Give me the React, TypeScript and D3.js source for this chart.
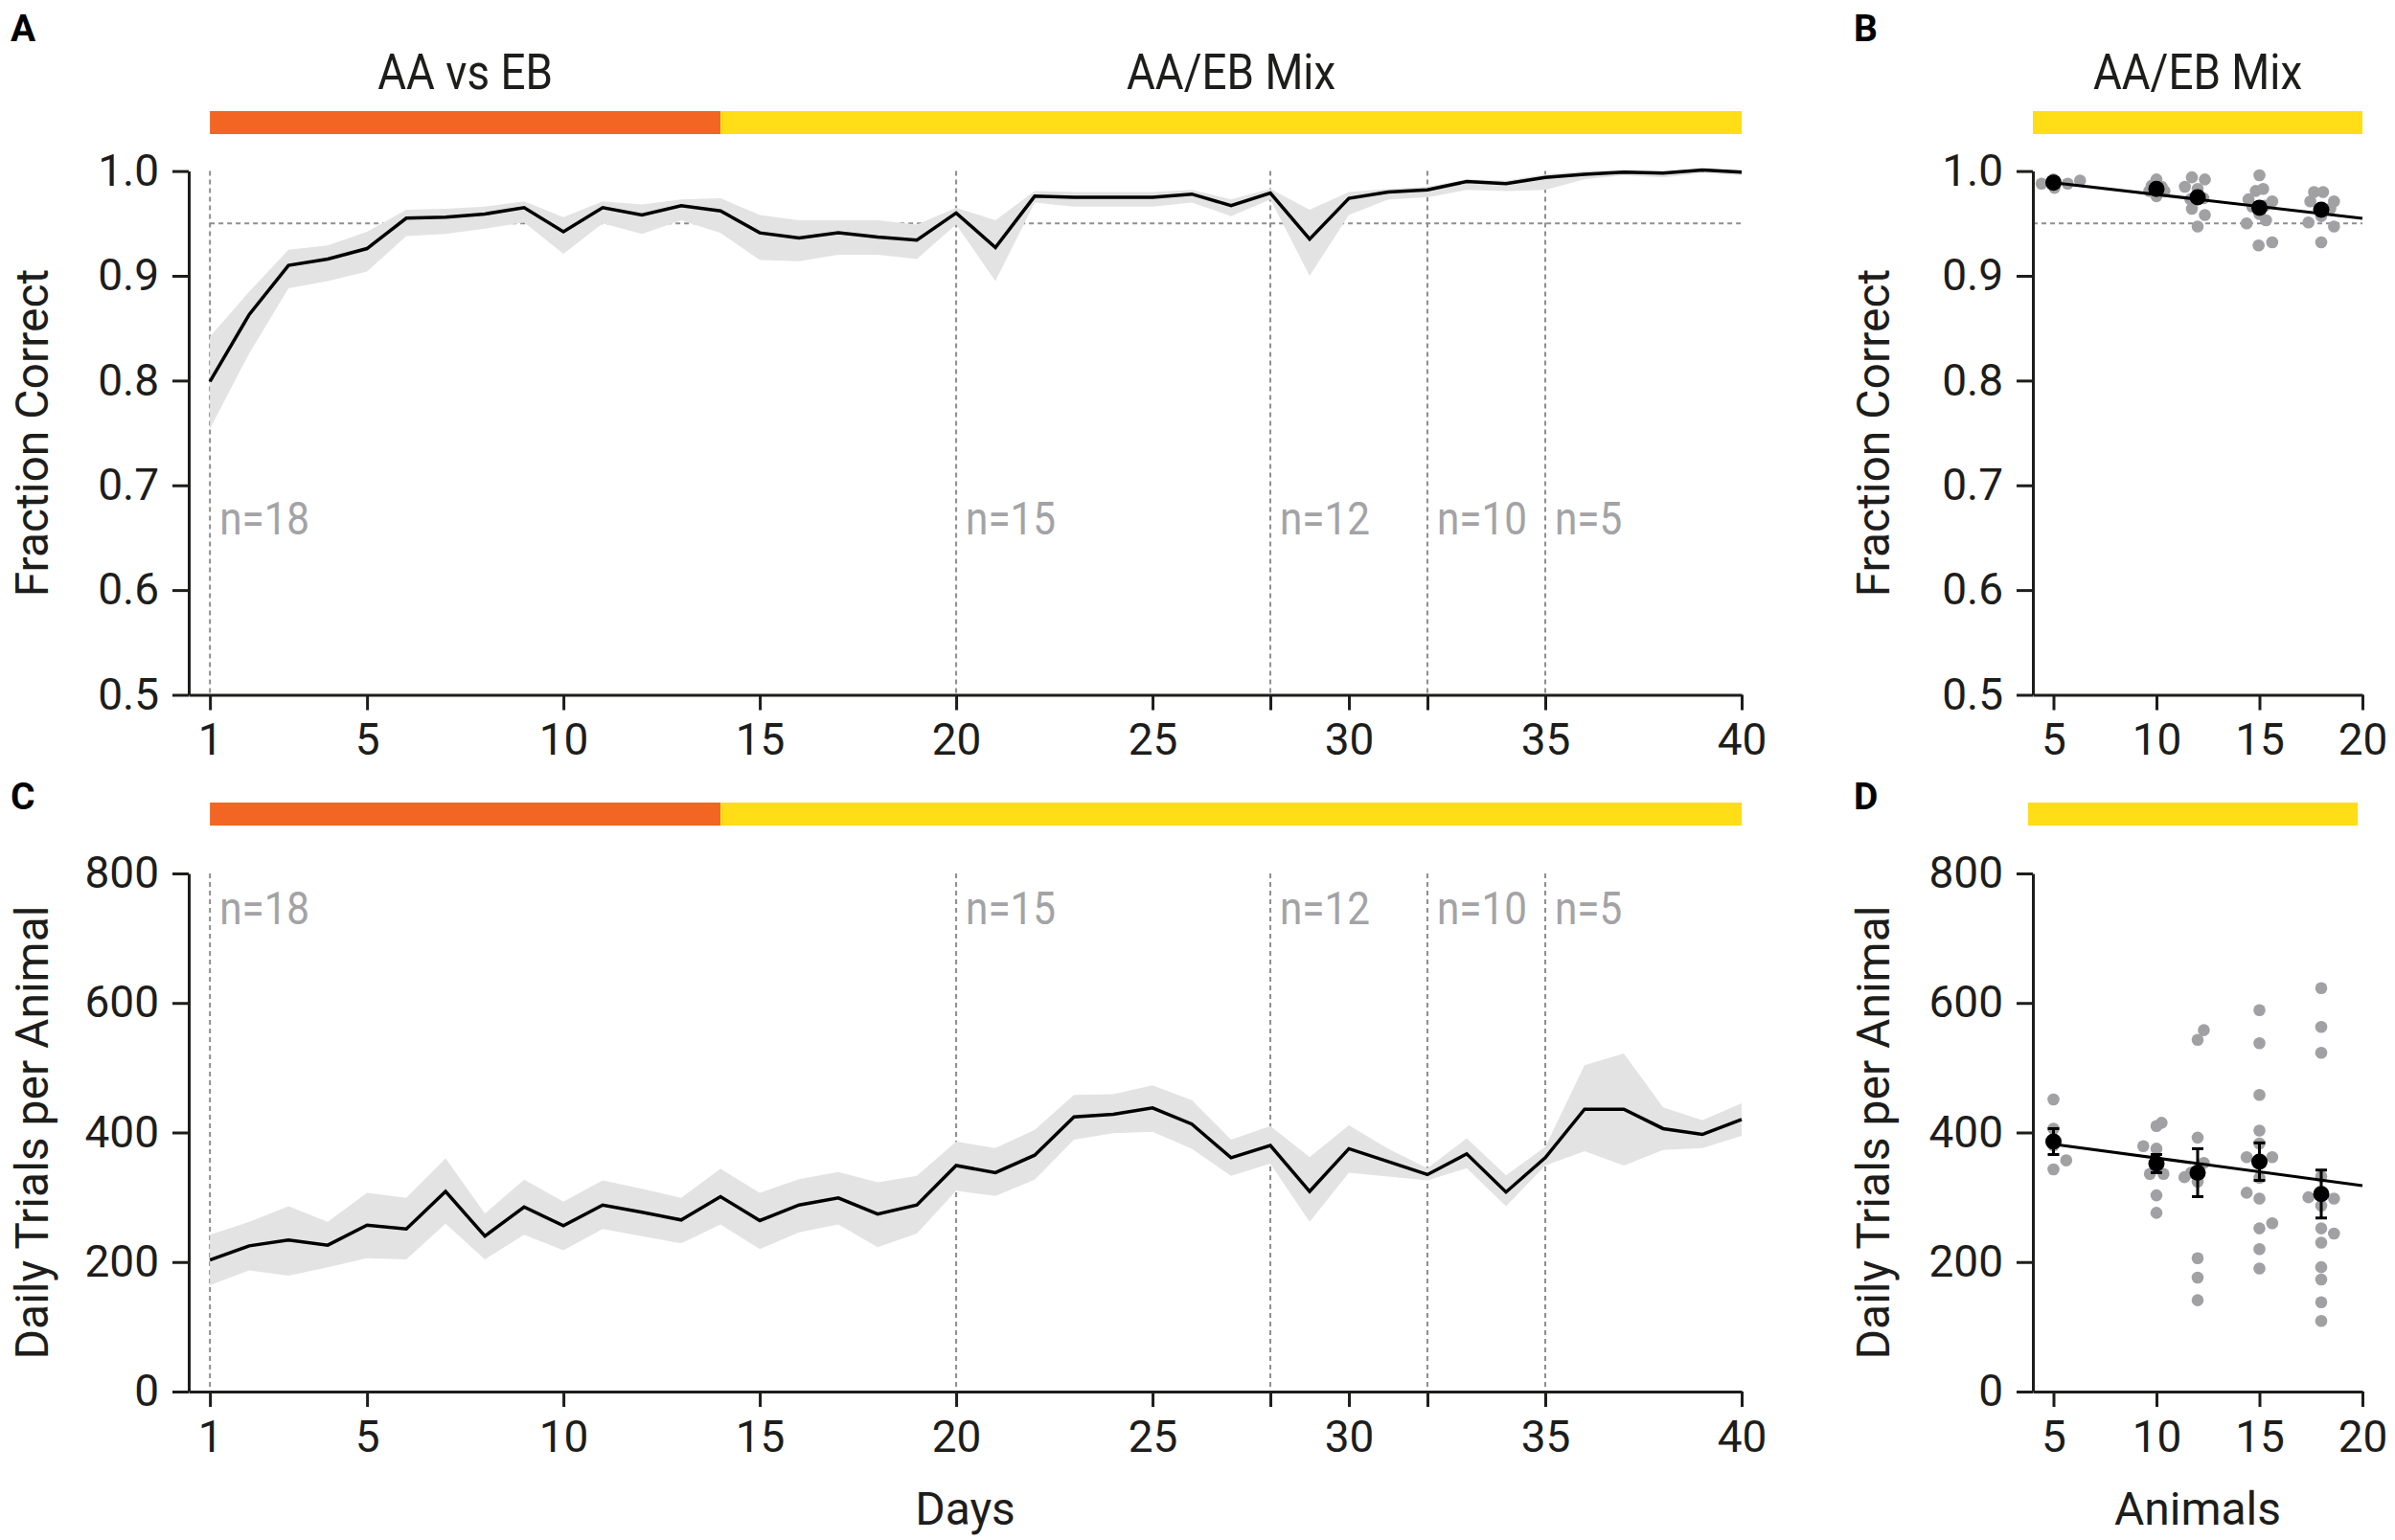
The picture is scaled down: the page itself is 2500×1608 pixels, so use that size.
import * as d3 from "d3";
import { useEffect, useRef } from "react";

const W = 2500;
const H = 1608;

const FONT = "Roboto, 'Open Sans', sans-serif";
const INK = "#1d1d1b";
const GREY_TEXT = "#a3a3a6";
const DOT_GREY = "#a1a1a4";
const BAND = "#e3e3e3";
const DASH = "#8e8e8e";
const ORANGE = "#f26522";
const YELLOW = "#ffdd17";

// ---- time course (panels A, C) ----
const days = [
    1, 2, 3, 4, 5, 6, 7, 8, 9, 10, 11, 12, 13, 14, 15, 16, 17, 18, 19, 20,
    21, 22, 23, 24, 25, 26, 27, 28, 29, 30, 31, 32, 33, 34, 35, 36, 37, 38, 39, 40,
];

const accMean = [
    0.799, 0.863, 0.91, 0.916, 0.926, 0.955, 0.956, 0.959, 0.965, 0.942,
    0.965, 0.958, 0.967, 0.962, 0.941, 0.936, 0.941, 0.937, 0.934, 0.96,
    0.927, 0.976, 0.975, 0.975, 0.975, 0.978, 0.967, 0.979, 0.935, 0.974,
    0.98, 0.982, 0.99, 0.988, 0.994, 0.997, 0.999, 0.998, 1.001, 0.999,
];
const accHigh = [
    0.842, 0.885, 0.925, 0.929, 0.942, 0.963, 0.964, 0.966, 0.971, 0.956,
    0.971, 0.968, 0.973, 0.974, 0.958, 0.953, 0.953, 0.953, 0.949, 0.965,
    0.953, 0.981, 0.98, 0.98, 0.98, 0.982, 0.973, 0.983, 0.963, 0.98,
    0.983, 0.985, 0.992, 0.991, 0.997, 1.0, 1.001, 1.0, 1.002, 1.001,
];
const accLow = [
    0.754, 0.826, 0.888, 0.895, 0.904, 0.938, 0.94, 0.945, 0.951, 0.921,
    0.95, 0.94, 0.953, 0.941, 0.915, 0.914, 0.92, 0.92, 0.916, 0.949,
    0.895, 0.97, 0.966, 0.966, 0.966, 0.97, 0.957, 0.973, 0.9, 0.958,
    0.973, 0.975, 0.982, 0.981, 0.982, 0.992, 0.996, 0.994, 0.998, 0.996,
];

const trialsMean = [
    203, 225, 234, 226, 257, 251, 309, 240, 285, 256,
    288, 277, 265, 301, 264, 288, 299, 274, 288, 349,
    338, 365, 424, 428, 438, 413, 361, 380, 309, 375,
    355, 335, 367, 308, 361, 436, 436, 406, 397, 420,
];
const trialsHigh = [
    242, 262, 286, 262, 307, 299, 360, 275, 327, 293,
    326, 313, 299, 344, 307, 328, 339, 323, 333, 386,
    376, 404, 458, 459, 473, 450, 389, 410, 362, 411,
    375, 345, 391, 334, 378, 504, 522, 439, 419, 445,
];
const trialsLow = [
    164, 187, 179, 192, 206, 204, 259, 204, 242, 218,
    251, 240, 229, 258, 220, 246, 258, 223, 244, 310,
    302, 327, 389, 399, 401, 375, 333, 352, 262, 338,
    332, 326, 345, 286, 349, 371, 349, 373, 376, 395,
];

const cohortDays = [1, 20, 28, 32, 35];
const cohortLabels = ["n=18", "n=15", "n=12", "n=10", "n=5"];

const phaseNames = ["AA vs EB", "AA/EB Mix"];
const phaseStart = [1, 14];
const phaseEnd = [14, 40];

const accTicks = [0.5, 0.6, 0.7, 0.8, 0.9, 1.0];
const trialTicks = [0, 200, 400, 600, 800];
const dayTicks = [1, 5, 10, 15, 20, 25, 28, 30, 32, 35, 40];
const dayTickLabels = [1, 5, 10, 15, 20, 25, 30, 35, 40];
const animalTicks = [5, 10, 15, 20];
const criterion = 0.95;

// ---- by cohort size (panels B, D) ----
const animalGroups = [5, 10, 12, 15, 18];
const accGroupMean = [0.989, 0.983, 0.975, 0.965, 0.963];
const accFit = { intercept: 1.0003, slope: -0.00227 };
// [cohort size, horizontal jitter, value]
const accAnimals: [number, number, number][] = [
    [5, -0.58, 0.988], [5, 0.05, 0.984], [5, 0.69, 0.988], [5, 1.29, 0.991], [5, 0.0, 0.992],
    [10, 0, 0.992], [10, -0.35, 0.981], [10, 0.39, 0.981], [10, 0, 0.976], [10, -0.23, 0.986], [10, 0.25, 0.985],
    [12, -0.28, 0.994], [12, 0.35, 0.992], [12, -0.62, 0.985], [12, 0, 0.983], [12, 0.28, 0.974],
    [12, -0.28, 0.964], [12, 0.35, 0.958], [12, 0, 0.947], [12, -0.35, 0.973],
    [15, 0, 0.996], [15, -0.18, 0.981], [15, 0.18, 0.983], [15, -0.53, 0.973], [15, 0.62, 0.971],
    [15, 0, 0.959], [15, -0.62, 0.95], [15, 0.32, 0.953], [15, -0.04, 0.929], [15, 0.62, 0.932],
    [15, -0.35, 0.966], [15, 0.26, 0.967],
    [18, -0.53, 0.971], [18, -0.35, 0.98], [18, 0.09, 0.98], [18, 0.62, 0.971], [18, -0.62, 0.951],
    [18, 0, 0.957], [18, 0.62, 0.947], [18, 0, 0.932], [18, 0.44, 0.964],
];

const trialGroupMean = [386, 352, 338, 355, 305];
const trialGroupSem = [20, 14, 37, 29, 37];
const trialFit = { intercept: 403.3, slope: -4.27 };
const trialAnimals: [number, number, number][] = [
    [5, 0, 451], [5, 0, 406], [5, 0.62, 357], [5, 0, 343], [5, 0, 380],
    [10, 0.25, 415], [10, 0, 410], [10, -0.64, 379], [10, 0, 375], [10, -0.32, 336],
    [10, 0.34, 336], [10, 0, 347], [10, 0, 303], [10, 0, 276],
    [12, 0.3, 558], [12, 0, 543], [12, 0, 392], [12, -0.64, 331], [12, 0.3, 353],
    [12, 0, 324], [12, 0, 206], [12, 0, 176], [12, 0, 141], [12, -0.32, 338],
    [15, 0, 589], [15, 0, 538], [15, 0, 458], [15, 0, 403], [15, 0, 383], [15, -0.62, 362],
    [15, 0.62, 362], [15, 0, 330], [15, -0.62, 307], [15, 0, 298], [15, 0.62, 260],
    [15, 0, 252], [15, 0, 220], [15, 0, 190],
    [18, 0, 623], [18, 0, 563], [18, 0, 523], [18, 0, 332], [18, -0.62, 300], [18, 0.62, 298],
    [18, 0, 287], [18, 0, 252], [18, 0.62, 244], [18, 0, 230], [18, 0, 192], [18, 0, 173],
    [18, 0, 138], [18, 0, 109],
];

type Sel = d3.Selection<SVGGElement, unknown, null, undefined>;
type Lin = d3.ScaleLinear<number, number>;

function styleAxis(g: Sel) {
    g.select(".domain").attr("stroke", INK).attr("stroke-width", 3);
    g.selectAll(".tick line").attr("stroke", INK).attr("stroke-width", 3);
    g.selectAll(".tick text")
        .attr("fill", INK)
        .attr("font-family", FONT)
        .attr("font-size", 46);
}

function drawAxes(g: Sel, x: Lin, y: Lin, xTicks: number[], xLabels: number[], yTicks: number[], yFmt: (d: number) => string) {
    const left = g.append("g").attr("transform", `translate(${x.range()[0]},0)`);
    left.call(
        d3.axisLeft(y)
            .tickValues(yTicks)
            .tickFormat((d) => yFmt(d as number))
            .tickSize(17)
            .tickSizeOuter(0)
            .tickPadding(14)
    );
    styleAxis(left);

    const bottom = g.append("g").attr("transform", `translate(0,${y.range()[0]})`);
    bottom.call(
        d3.axisBottom(x)
            .tickValues(xTicks)
            .tickFormat((d) => (xLabels.includes(d as number) ? String(d) : ""))
            .tickSize(16)
            .tickSizeOuter(0)
            .tickPadding(14)
    );
    styleAxis(bottom);
}

// condensed look: Roboto squeezed horizontally
function narrowText(g: Sel, text: string, x: number, y: number, size: number, fill: string, anchor: string) {
    g.append("text")
        .attr("transform", `translate(${x},${y}) scale(0.88,1)`)
        .attr("text-anchor", anchor)
        .attr("font-family", FONT)
        .attr("font-size", size)
        .attr("fill", fill)
        .text(text);
}

function panelLetter(svg: Sel, letter: string, x: number, y: number) {
    svg.append("text")
        .attr("x", x)
        .attr("y", y)
        .attr("font-family", FONT)
        .attr("font-weight", 700)
        .attr("font-size", 39)
        .attr("fill", "#000")
        .text(letter);
}

function yLabel(svg: Sel, text: string, x: number, yScale: Lin) {
    const [a, b] = yScale.range();
    svg.append("text")
        .attr("transform", `translate(${x},${(a + b) / 2}) rotate(-90)`)
        .attr("text-anchor", "middle")
        .attr("font-family", FONT)
        .attr("font-size", 48)
        .attr("fill", INK)
        .text(text);
}

function drawTimePanel(svg: Sel, x: Lin, y: Lin, mean: number[], low: number[], high: number[], nLabelValue: number, showCriterion: boolean) {
    const g = svg.append("g");
    const [yBottom, yTop] = y.range();

    // cohort change markers
    g.selectAll(".cohort")
        .data(cohortDays)
        .join("line")
        .attr("x1", (d) => x(d))
        .attr("x2", (d) => x(d))
        .attr("y1", yTop)
        .attr("y2", yBottom)
        .attr("stroke", DASH)
        .attr("stroke-width", 2)
        .attr("stroke-dasharray", "5,4");

    if (showCriterion) {
        g.append("line")
            .attr("x1", x(days[0]))
            .attr("x2", x(days[days.length - 1]))
            .attr("y1", y(criterion))
            .attr("y2", y(criterion))
            .attr("stroke", DASH)
            .attr("stroke-width", 2)
            .attr("stroke-dasharray", "5,4");
    }

    const area = d3
        .area<number>()
        .x((_, i) => x(days[i]))
        .y0((_, i) => y(low[i]))
        .y1((_, i) => y(high[i]));
    g.append("path").datum(mean).attr("d", area).attr("fill", BAND);

    const line = d3
        .line<number>()
        .x((_, i) => x(days[i]))
        .y((d) => y(d));
    g.append("path")
        .datum(mean)
        .attr("d", line)
        .attr("fill", "none")
        .attr("stroke", "#000")
        .attr("stroke-width", 3.5)
        .attr("stroke-linejoin", "miter");

    cohortLabels.forEach((lab, i) =>
        narrowText(g, lab, x(cohortDays[i]) + 10, y(nLabelValue), 48, GREY_TEXT, "start")
    );
}

function phaseBars(svg: Sel, x: Lin, top: number, starts: number[], ends: number[], colors: string[]) {
    svg.append("g")
        .selectAll("rect")
        .data(starts)
        .join("rect")
        .attr("x", (d) => x(d))
        .attr("y", top)
        .attr("width", (d, i) => x(ends[i]) - x(d))
        .attr("height", 24)
        .attr("fill", (_, i) => colors[i]);
}

function drawAnimalPanel(
    svg: Sel,
    x: Lin,
    y: Lin,
    points: [number, number, number][],
    means: number[],
    fit: { intercept: number; slope: number },
    sem: number[] | null,
    showCriterion: boolean
) {
    const g = svg.append("g");
    const [x0, x1] = x.range();

    if (showCriterion) {
        g.append("line")
            .attr("x1", x0)
            .attr("x2", x1)
            .attr("y1", y(criterion))
            .attr("y2", y(criterion))
            .attr("stroke", DASH)
            .attr("stroke-width", 2)
            .attr("stroke-dasharray", "5,4");
    }

    g.selectAll(".pt")
        .data(points)
        .join("circle")
        .attr("cx", (d) => x(d[0] + d[1]))
        .attr("cy", (d) => y(d[2]))
        .attr("r", 6.3)
        .attr("fill", DOT_GREY);

    const fitX = [animalGroups[0], animalTicks[animalTicks.length - 1]];
    g.append("path")
        .datum(fitX)
        .attr(
            "d",
            d3
                .line<number>()
                .x((d) => x(d))
                .y((d) => y(fit.intercept + fit.slope * d))
        )
        .attr("stroke", "#000")
        .attr("stroke-width", 3)
        .attr("fill", "none");

    if (sem) {
        const eb = g.selectAll(".eb").data(animalGroups).join("g");
        eb.append("line")
            .attr("x1", (d) => x(d))
            .attr("x2", (d) => x(d))
            .attr("y1", (_, i) => y(means[i] - sem[i]))
            .attr("y2", (_, i) => y(means[i] + sem[i]))
            .attr("stroke", "#000")
            .attr("stroke-width", 3);
        [-1, 1].forEach((s) => {
            eb.append("line")
                .attr("x1", (d) => x(d) - 6)
                .attr("x2", (d) => x(d) + 6)
                .attr("y1", (_, i) => y(means[i] + s * sem[i]))
                .attr("y2", (_, i) => y(means[i] + s * sem[i]))
                .attr("stroke", "#000")
                .attr("stroke-width", 3);
        });
    }

    g.selectAll(".mean")
        .data(means)
        .join("circle")
        .attr("cx", (_, i) => x(animalGroups[i]))
        .attr("cy", (d) => y(d))
        .attr("r", 8.5)
        .attr("fill", "#000");
}

function drawFigure(el: SVGSVGElement) {
    const svg = d3.select(el);
    svg.selectAll("*").remove();
    const root = svg.append("g") as unknown as Sel;
    root.append("rect").attr("width", W).attr("height", H).attr("fill", "#fff");

    const xDay = d3.scaleLinear().domain([0.46, 40]).range([197, 1818]);
    const xAnimal = d3.scaleLinear().domain([4, 20]).range([2122, 2466]);
    const yAcc = d3.scaleLinear().domain([0.5, 1]).range([725.5, 178.6]);
    const yTrials = d3.scaleLinear().domain([0, 800]).range([1453, 912]);

    panelLetter(root, "A", 11, 43);
    panelLetter(root, "B", 1935, 43);
    panelLetter(root, "C", 11, 845);
    panelLetter(root, "D", 1935, 845);

    // phase bars + labels
    phaseBars(root, xDay, 116, phaseStart, phaseEnd, [ORANGE, YELLOW]);
    phaseBars(root, xDay, 838, phaseStart, phaseEnd, [ORANGE, YELLOW]);
    phaseBars(root, xAnimal, 116, [4], [20], [YELLOW]);
    phaseBars(root, xAnimal.copy().range([2117, 2461]), 838, [4], [20], [YELLOW]);
    phaseNames.forEach((name, i) =>
        narrowText(root, name, (xDay(phaseStart[i]) + xDay(phaseEnd[i])) / 2, 93, 52, INK, "middle")
    );
    narrowText(root, phaseNames[1], (xAnimal(4) + xAnimal(20)) / 2, 93, 52, INK, "middle");

    // A
    drawTimePanel(root, xDay, yAcc, accMean, accLow, accHigh, 0.653, true);
    drawAxes(root, xDay, yAcc, dayTicks, dayTickLabels, accTicks, d3.format(".1f"));
    yLabel(root, "Fraction Correct", 50, yAcc);

    // C
    drawTimePanel(root, xDay, yTrials, trialsMean, trialsLow, trialsHigh, 722, false);
    drawAxes(root, xDay, yTrials, dayTicks, dayTickLabels, trialTicks, d3.format("d"));
    yLabel(root, "Daily Trials per Animal", 50, yTrials);

    // B
    drawAnimalPanel(root, xAnimal, yAcc, accAnimals, accGroupMean, accFit, null, true);
    drawAxes(root, xAnimal, yAcc, animalTicks, animalTicks, accTicks, d3.format(".1f"));
    yLabel(root, "Fraction Correct", 1972, yAcc);

    // D
    drawAnimalPanel(root, xAnimal, yTrials, trialAnimals, trialGroupMean, trialFit, trialGroupSem, false);
    drawAxes(root, xAnimal, yTrials, animalTicks, animalTicks, trialTicks, d3.format("d"));
    yLabel(root, "Daily Trials per Animal", 1972, yTrials);

    // x labels
    const [dx0, dx1] = xDay.range();
    const [ax0, ax1] = xAnimal.range();
    root.append("text")
        .attr("x", (dx0 + dx1) / 2)
        .attr("y", 1592)
        .attr("text-anchor", "middle")
        .attr("font-family", FONT)
        .attr("font-size", 48)
        .attr("fill", INK)
        .text("Days");
    root.append("text")
        .attr("x", (ax0 + ax1) / 2)
        .attr("y", 1592)
        .attr("text-anchor", "middle")
        .attr("font-family", FONT)
        .attr("font-size", 48)
        .attr("fill", INK)
        .text("Animals");
}

export default function App() {
    const ref = useRef<SVGSVGElement | null>(null);

    useEffect(() => {
        if (ref.current) drawFigure(ref.current);
    }, []);

    return (
        <svg
            ref={ref}
            width={W}
            height={H}
            style={{ position: "absolute", left: 0, top: 0, display: "block" }}
        />
    );
}
